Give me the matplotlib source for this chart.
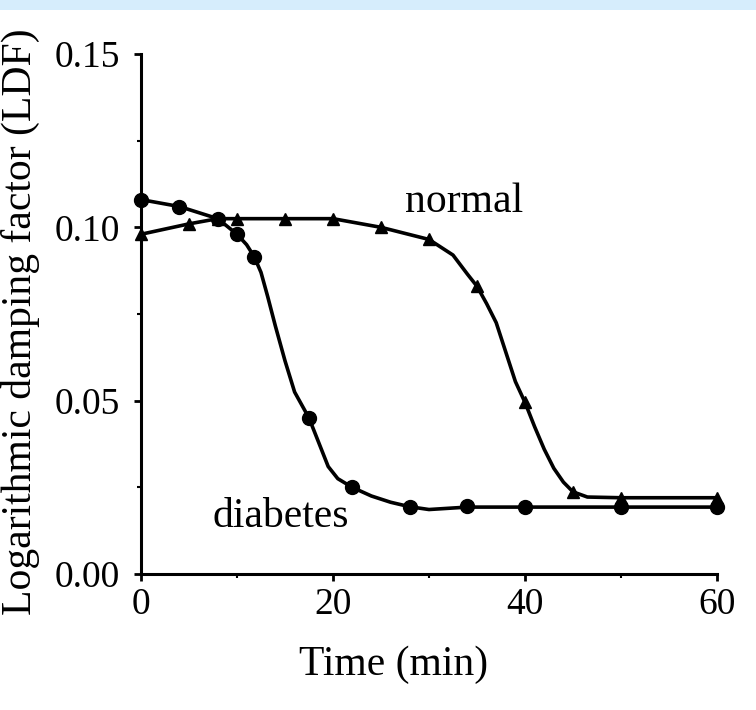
import matplotlib
matplotlib.use("Agg")
import matplotlib.pyplot as plt
from matplotlib.ticker import MultipleLocator, FormatStrFormatter

plt.rcParams['font.family'] = ['Liberation Serif', 'DejaVu Serif']

# measured points (markers)
t_diab = [0, 4, 8, 10, 11.8, 17.5, 22, 28, 34, 40, 50, 60]
ldf_diab = [0.108, 0.106, 0.1025, 0.098, 0.0915, 0.045, 0.025, 0.0193, 0.0197, 0.0193, 0.0193, 0.0193]
t_norm = [0, 5, 8, 10, 15, 20, 25, 30, 35, 40, 45, 50, 60]
ldf_norm = [0.098, 0.101, 0.1025, 0.1025, 0.1025, 0.1025, 0.1, 0.0965, 0.083, 0.0495, 0.0237, 0.022, 0.022]

# smooth fitted curves
tc_diab = [0, 4, 8, 10, 11, 11.8, 12.5, 13.2, 14, 15, 16, 17.5, 18.5, 19.5, 20.5, 22, 24, 26, 28, 30, 34, 40, 50, 60]
lc_diab = [0.108, 0.106, 0.1025, 0.098, 0.095, 0.0915, 0.087, 0.08, 0.0715, 0.0615, 0.0525, 0.045, 0.038, 0.031,
           0.0275, 0.025, 0.0225, 0.0207, 0.0194, 0.0186, 0.0193, 0.0193, 0.0193, 0.0193]
tc_norm = [0, 5, 8, 10, 15, 20, 25, 30, 32.5, 34, 35, 36, 37, 38, 39, 40, 41, 42, 43, 44, 45, 46.5, 50, 60]
lc_norm = [0.098, 0.101, 0.1025, 0.1025, 0.1025, 0.1025, 0.1, 0.0965, 0.092, 0.0865, 0.083, 0.078, 0.0725, 0.064,
           0.0555, 0.0495, 0.0425, 0.036, 0.0305, 0.0265, 0.0237, 0.0222, 0.022, 0.022]

fig = plt.figure(figsize=(7.56, 7.10), dpi=100)
fig.patches.append(plt.Rectangle((0, 1 - 10 / 710), 1, 10 / 710, transform=fig.transFigure,
                                 facecolor='#d6edfc', edgecolor='none', zorder=0))
ax = fig.add_axes([141 / 756, 1 - 574 / 710, 576 / 756, 520 / 710])

ax.plot(tc_diab, lc_diab, color='black', lw=2.6, zorder=2)
ax.plot(tc_norm, lc_norm, color='black', lw=2.6, zorder=2)
ax.plot(t_diab, ldf_diab, 'o', color='black', ms=10, zorder=3, clip_on=False)
ax.plot(t_norm, ldf_norm, '^', color='black', mfc='black', ms=8.5, zorder=3, clip_on=False)

ax.set_xlim(0, 60)
ax.set_ylim(0, 0.15)
ax.xaxis.set_major_locator(MultipleLocator(20))
ax.xaxis.set_minor_locator(MultipleLocator(10))
ax.yaxis.set_major_locator(MultipleLocator(0.05))
ax.yaxis.set_minor_locator(MultipleLocator(0.025))
ax.yaxis.set_major_formatter(FormatStrFormatter('%.2f'))
for s in ['top', 'right']:
    ax.spines[s].set_visible(False)
for s in ['left', 'bottom']:
    ax.spines[s].set_linewidth(2.2)
ax.tick_params(which='major', length=5, width=2, labelsize=27)
ax.tick_params(axis='y', which='major', pad=10)
ax.tick_params(axis='x', which='major', pad=5)
ax.tick_params(which='minor', length=3, width=1.5)

ax.text(27.5, 0.1045, 'normal', fontsize=30)
ax.text(7.5, 0.0135, 'diabetes', fontsize=30)

fig.text(394 / 756, 1 - 665 / 710, 'Time (min)', fontsize=30, ha='center', va='center')
fig.text(20 / 756, 1 - 322 / 710, 'Logarithmic damping factor (LDF)', fontsize=30,
         rotation=90, ha='center', va='center')

fig.savefig('out.png', dpi=100)
